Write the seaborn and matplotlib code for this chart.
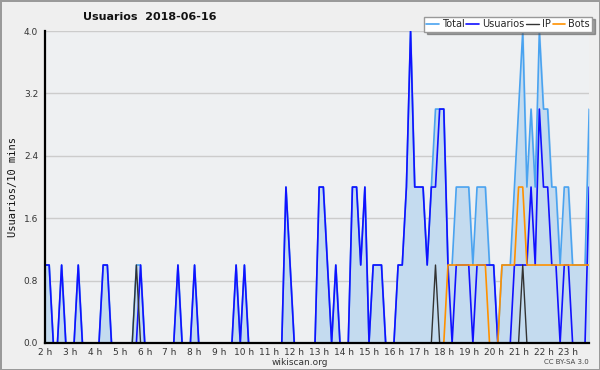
import matplotlib
matplotlib.use("Agg")
import matplotlib.pyplot as plt
from matplotlib.ticker import MultipleLocator, FixedLocator
import seaborn as sns
import numpy as np

# datos: un valor cada 10 minutos, de 2 h a 23 h 50
hours = list(range(2, 24))
hour_labels = [f"{h} h" for h in hours]

usuarios = [
    1, 1, 0, 0, 1, 0, 0, 0, 1, 0,
    0, 0, 0, 0, 1, 1, 0, 0, 0, 0,
    0, 0, 0, 1, 0, 0, 0, 0, 0, 0,
    0, 0, 1, 0, 0, 0, 1, 0, 0, 0,
    0, 0, 0, 0, 0, 0, 1, 0, 1, 0,
    0, 0, 0, 0, 0, 0, 0, 0, 2, 1,
    0, 0, 0, 0, 0, 0, 2, 2, 1, 0,
    1, 0, 0, 0, 2, 2, 1, 2, 0, 1,
    1, 1, 0, 0, 0, 1, 1, 2, 4, 2,
    2, 2, 1, 2, 2, 3, 3, 1, 0, 1,
    1, 1, 1, 0, 1, 1, 1, 1, 1, 0,
    0, 0, 0, 1, 1, 1, 1, 2, 1, 3,
    2, 2, 1, 1, 0, 1, 1, 0, 0, 0,
    0, 2,
]

total = [
    1, 1, 0, 0, 1, 0, 0, 0, 1, 0,
    0, 0, 0, 0, 1, 1, 0, 0, 0, 0,
    0, 0, 1, 1, 0, 0, 0, 0, 0, 0,
    0, 0, 1, 0, 0, 0, 1, 0, 0, 0,
    0, 0, 0, 0, 0, 0, 1, 0, 1, 0,
    0, 0, 0, 0, 0, 0, 0, 0, 2, 1,
    0, 0, 0, 0, 0, 0, 2, 2, 1, 0,
    1, 0, 0, 0, 2, 2, 1, 2, 0, 1,
    1, 1, 0, 0, 0, 1, 1, 2, 4, 2,
    2, 2, 1, 2, 3, 3, 3, 1, 1, 2,
    2, 2, 2, 1, 2, 2, 2, 1, 1, 0,
    1, 1, 1, 2, 3, 4, 2, 3, 2, 4,
    3, 3, 2, 2, 1, 2, 2, 1, 1, 1,
    1, 3,
]

ip = [0] * 132
ip[22] = 1
ip[94] = 1
ip[115] = 1

bots = (
    [0] * 97
    + [1] * 10
    + [0] * 3
    + [1] * 4
    + [2] * 2
    + [1] * 16
)

t = 2 + np.arange(len(total)) / 6

sns.set_style("white")
plt.rcParams["font.family"] = ["DejaVu Sans"]

fig = plt.figure(figsize=(6, 3.7), dpi=100, facecolor="#efefef",
                 edgecolor="#9a9a9a", linewidth=2)
ax = fig.add_axes([0.075, 0.073, 0.907, 0.843])
ax.set_facecolor("#eef0f2")

ax.fill_between(t, total, color="#c4dbef", zorder=1)
sns.lineplot(x=t, y=total, ax=ax, color="#4aa3f0", lw=1.2, label="Total", zorder=2)
sns.lineplot(x=t, y=usuarios, ax=ax, color="#1111ff", lw=1.2, label="Usuarios", zorder=3)
sns.lineplot(x=t, y=ip, ax=ax, color="#333333", lw=1.0, label="IP", zorder=4)
sns.lineplot(x=t, y=bots, ax=ax, color="#ff9100", lw=1.2, label="Bots", zorder=5)

ax.set_xlim(t[0], t[-1])
ax.set_ylim(0, 4.0)

ax.xaxis.set_major_locator(FixedLocator(hours))
ax.set_xticklabels(hour_labels)
ax.xaxis.set_minor_locator(MultipleLocator(1 / 6))
ax.yaxis.set_major_locator(MultipleLocator(0.8))
ax.yaxis.set_minor_locator(MultipleLocator(0.2))
ax.yaxis.set_major_formatter(matplotlib.ticker.FormatStrFormatter("%.1f"))

ax.tick_params(axis="both", which="major", direction="out", length=4, width=1,
               color="black", labelsize=6.5, labelcolor="#333333", pad=1)
ax.tick_params(axis="both", which="minor", direction="out", length=2.5, width=1, color="black")
ax.tick_params(axis="x", which="major", pad=-0.5)

ax.grid(axis="y", color="#cccccc", lw=1)
ax.set_axisbelow(True)
for side in ["top", "right"]:
    ax.spines[side].set_visible(False)
for side in ["left", "bottom"]:
    ax.spines[side].set_color("black")
    ax.spines[side].set_linewidth(1.6)
    ax.spines[side].set_zorder(10)

ax.set_xlabel("")
ax.set_ylabel("Usuarios/10 mins", family="DejaVu Sans Mono", fontsize=7.5,
              labelpad=4, color="#111111")

ax.get_legend().remove()
handles, labels = ax.get_legend_handles_labels()
leg = fig.legend(handles, labels, loc="upper right", bbox_to_anchor=(0.987, 0.955),
                 ncol=4, fontsize=7, frameon=True, fancybox=False, shadow=True,
                 handlelength=1.3, handletextpad=0.3, columnspacing=0.2,
                 borderpad=0.25, borderaxespad=0)
leg.get_frame().set_edgecolor("#999999")
leg.get_frame().set_facecolor("white")

fig.text(0.25, 0.955, "Usuarios  2018-06-16", ha="center", va="center",
         fontsize=8, fontweight="bold", color="#111111")
fig.text(0.5, 0.02, "wikiscan.org", ha="center", va="center", fontsize=6.5, color="#333333")
fig.text(0.982, 0.022, "CC BY-SA 3.0", ha="right", va="center", fontsize=5, color="#444444")

fig.savefig("out.png", dpi=100, facecolor=fig.get_facecolor(), edgecolor=fig.get_edgecolor())
